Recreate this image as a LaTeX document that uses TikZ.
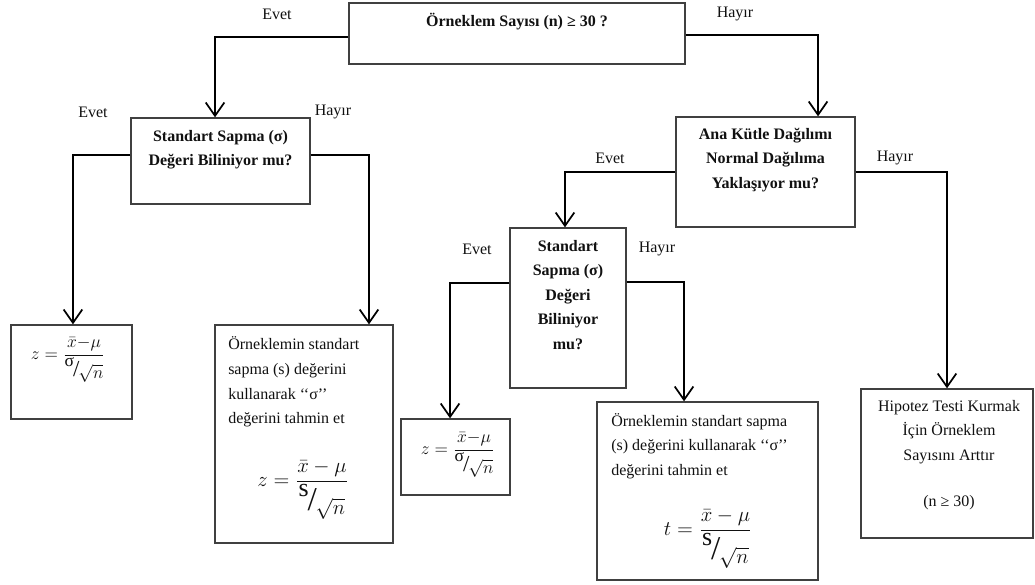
\documentclass[tikz,border=0pt]{standalone}
\usepackage{amsmath}
\usepackage{graphicx}
\usepackage{fontspec}
\setmainfont{Liberation Serif}
\usetikzlibrary{arrows.meta}

\definecolor{boxgray}{HTML}{404040}
\definecolor{ink}{HTML}{111111}

% sigma/sqrt(n) written as a slanted fraction: raised top, big slash, lowered bottom
\newcommand\slantfrac[4]{%
  \raisebox{#1}{#3}\kern-0.06em\raisebox{-0.25em}{\scalebox{#2}{/}}\kern-0.06em\raisebox{-#1}{#4}}

\tikzset{
  box/.style={draw=boxgray, line width=1pt, inner sep=0pt, rectangle},
  qtext/.style={font=\bfseries\fontsize{12}{18.4}\selectfont, align=center, inner sep=0pt, text=ink},
  ctext/.style={font=\fontsize{12}{18.4}\selectfont, align=center, inner sep=0pt, text=ink},
  btext/.style={font=\fontsize{12}{18.4}\selectfont, align=left, inner sep=0pt, text=ink},
  lbl/.style={font=\fontsize{12}{14}\selectfont, inner sep=0pt, text=ink},
  formula/.style={inner sep=0pt, text=ink, font=\fontsize{12}{14}\selectfont},
  conn/.style={line width=1.5pt, draw=black,
    -{Straight Barb[length=10pt, width=14pt, line width=1.3pt]}},
}

\begin{document}
\begin{tikzpicture}[x=0.75pt, y=-0.75pt]
\fill[white] (0,0) rectangle (1035,585);
\useasboundingbox (0,0) rectangle (1035,585);

% decision boxes
\node[box, minimum width=252pt,    minimum height=45.75pt] (q1) at (517,33.5) {};
\node[box, minimum width=134.25pt, minimum height=64.5pt]  (q2) at (220.5,161) {};
\node[box, minimum width=134.25pt, minimum height=82.5pt]  (q3) at (765.5,172) {};
\node[box, minimum width=87pt,     minimum height=120pt]   (q4) at (568,308) {};

% result boxes
\node[box, minimum width=90.75pt,  minimum height=70.5pt]  (r1) at (71.5,372) {};
\node[box, minimum width=133.5pt,  minimum height=163.5pt] (r2) at (304,434) {};
\node[box, minimum width=81.75pt,  minimum height=57pt]    (r3) at (455.5,457) {};
\node[box, minimum width=165.75pt, minimum height=133.5pt] (r4) at (707.5,491) {};
\node[box, minimum width=129pt,    minimum height=111.75pt](r5) at (947,463.5) {};

% questions
\node[qtext] (t1) at (517,22) {Örneklem Sayısı (n) ≥ 30 ?};
\node[qtext] (t2) at (220.5,149.5) {Standart Sapma (σ)\\Değeri Biliniyor mu?};
\node[qtext] (t3) at (765.5,160) {Ana Kütle Dağılımı\\Normal Dağılıma\\Yaklaşıyor mu?};
\node[qtext] (t4) at (568,295) {Standart\\Sapma (σ)\\Değeri\\Biliniyor\\mu?};

% result texts
\node[btext, anchor=west] (t5) at (228,382) {Örneklemin standart\\sapma (s) değerini\\kullanarak ‘‘σ’’\\değerini tahmin et};
\node[btext, anchor=west] (t6) at (611,446) {Örneklemin standart sapma\\(s) değerini kullanarak ‘‘σ’’\\değerini tahmin et};
\node[ctext] (t7) at (949,455) {Hipotez Testi Kurmak\\İçin Örneklem\\Sayısını Arttır\\[16pt](n ≥ 30)};

% formulas
\node[formula] (f1) at (68,360) {\scalebox{1.1}{%
  $z=\dfrac{\bar{x}{-}\mu}{\text{\slantfrac{0.35em}{1.3}{\fontsize{12}{14}\selectfont σ}{$\sqrt{n}$}}}$}};
\node[formula] (f2) at (303,490) {\scalebox{1.3}{%
  $z=\dfrac{\bar{x}-\mu}{\text{\slantfrac{0.45em}{1.6}{\fontsize{15}{17}\selectfont s}{$\sqrt{n}$}}}$}};
\node[formula] (f3) at (458,455) {\scalebox{1.1}{%
  $z=\dfrac{\bar{x}{-}\mu}{\text{\slantfrac{0.35em}{1.3}{\fontsize{12}{14}\selectfont σ}{$\sqrt{n}$}}}$}};
\node[formula] (f4) at (708,539) {\scalebox{1.3}{%
  $t=\dfrac{\bar{x}-\mu}{\text{\slantfrac{0.45em}{1.6}{\fontsize{15}{17}\selectfont s}{$\sqrt{n}$}}}$}};

% branch labels
\node[lbl] (e1) at (277,14)  {Evet};
\node[lbl] (h1) at (735,14)  {Hayır};
\node[lbl] (e2) at (93,112)  {Evet};
\node[lbl] (h2) at (333,112) {Hayır};
\node[lbl] (e3) at (610,158) {Evet};
\node[lbl] (h3) at (895,158) {Hayır};
\node[lbl] (e4) at (477,249) {Evet};
\node[lbl] (h4) at (657,249) {Hayır};

% connectors
\draw[conn] ([yshift=-2.6pt]q1.west) -| ([xshift=-4.1pt]q2.north);
\draw[conn] ([yshift=-1.1pt]q1.east) -| ([xshift=39.4pt]q3.north);
\draw[conn] ([yshift=4.5pt]q2.west)  -| ([xshift=1.1pt]r1.north);
\draw[conn] ([yshift=4.5pt]q2.east)  -| ([xshift=48.75pt]r2.north);
\draw[conn] (q3.west) -| ([xshift=-2.25pt]q4.north);
\draw[conn] (q3.east) -| (r5.north);
\draw[conn] ([yshift=18.75pt]q4.west) -| ([xshift=-4.1pt]r3.north);
\draw[conn] ([yshift=19.5pt]q4.east)  -| ([xshift=-17.6pt]r4.north);
\end{tikzpicture}
\end{document}
